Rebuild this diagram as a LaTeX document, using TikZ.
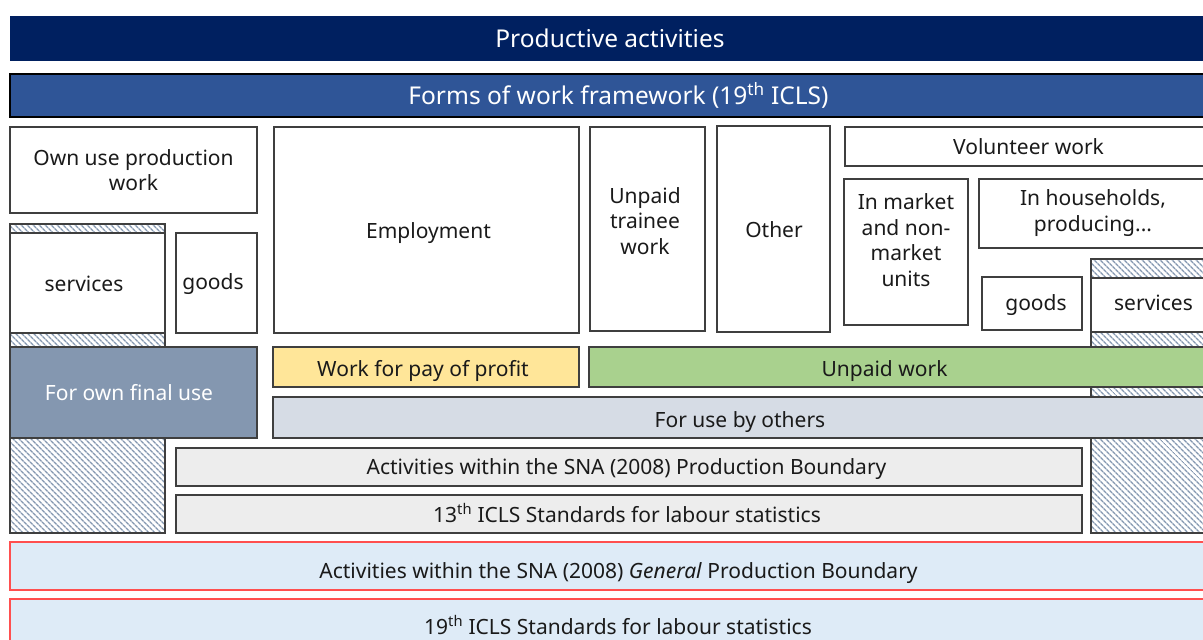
\documentclass[tikz,border=0pt]{standalone}
\usepackage{fontspec}
\setmainfont{Noto Sans}
\usetikzlibrary{patterns.meta}
\definecolor{navy}{HTML}{002060}
\definecolor{formblue}{HTML}{2F5597}
\definecolor{ownfinal}{HTML}{8497B0}
\definecolor{payyellow}{HTML}{FFE699}
\definecolor{unpaidgreen}{HTML}{A9D18E}
\definecolor{useothers}{HTML}{D6DCE5}
\definecolor{snagrey}{HTML}{EDEDED}
\definecolor{lightblue}{HTML}{DEEBF7}
\definecolor{redline}{HTML}{FF4F4F}
\definecolor{hatchc}{HTML}{8497B0}
\definecolor{boxline}{HTML}{3F3F3F}
\definecolor{txt}{HTML}{1A1A1A}
\begin{document}
\begin{tikzpicture}[x=1pt,y=-1pt,
  box/.style={draw=boxline, line width=1.4pt, fill=white, inner sep=0pt, outer sep=0pt,
    anchor=north west},
  hatchbox/.style={draw=boxline, line width=1.4pt, inner sep=0pt, outer sep=0pt, anchor=north west,
    pattern={Lines[angle=-45,distance=4pt,line width=1.4pt]}, pattern color=hatchc},
  lbl/.style={text=txt, align=center, inner sep=0pt, font=\fontsize{21}{25.5}\selectfont},
  one/.style={lbl, text height=18pt, text depth=2pt},
  redbox/.style={box, draw=redline, fill=lightblue},
  title/.style={one, text=white, font=\fontsize{24.5}{28}\selectfont, text height=20.5pt, text depth=3pt}
]
\useasboundingbox[fill=white] (0,0) rectangle (1203,640);
% top bars
\node[box, draw=none, fill=navy, minimum width=1200pt, minimum height=45pt] (prod) at (10,16) {};
\node[title] (prodT) at (610,38.5) {Productive activities};
\node[box, draw=black, fill=formblue, minimum width=1217pt, minimum height=43pt] (forms) at (10,74) {};
\node[title] (formsT) at (618.5,96) {Forms of work framework (19\textsuperscript{th} ICLS)};
% hatched columns
\node[hatchbox, minimum width=155pt, minimum height=309pt] (hatchL) at (10,224) {};
\node[hatchbox, minimum width=125pt, minimum height=274pt] (hatchR) at (1091,259) {};
% own use production
\node[box, minimum width=247pt, minimum height=86pt] (own) at (10,127) {};
\node[lbl] (ownT) at (133.5,170) {Own use production\\work};
\node[box, minimum width=155pt, minimum height=100pt] (servL) at (10,233) {};
\node[one] (servLT) at (84,283) {services};
\node[box, minimum width=81pt, minimum height=100pt] (goodsL) at (176,233) {};
\node[one] (goodsLT) at (213,281) {goods};
% employment etc.
\node[box, minimum width=305pt, minimum height=206pt] (emp) at (274,127) {};
\node[one] (empT) at (428.5,230) {Employment};
\node[box, minimum width=115pt, minimum height=204pt] (trainee) at (590,127) {};
\node[lbl] (traineeT) at (645,221) {Unpaid\\trainee\\work};
\node[box, minimum width=113pt, minimum height=206pt] (other) at (717,126) {};
\node[one] (otherT) at (774,229) {Other};
% volunteer
\node[box, minimum width=367pt, minimum height=39pt] (vol) at (845,127) {};
\node[one] (volT) at (1028.5,146.5) {Volunteer work};
\node[box, minimum width=124pt, minimum height=146pt] (market) at (844,179) {};
\node[lbl] (marketT) at (906,240) {In market\\and non-\\market\\units};
\node[box, minimum width=228pt, minimum height=69pt] (hh) at (979,179) {};
\node[lbl] (hhT) at (1093,213) {In households,\\producing...};
\node[box, minimum width=100pt, minimum height=53pt] (goodsR) at (982,277) {};
\node[one] (goodsRT) at (1036,302) {goods};
\node[box, minimum width=125pt, minimum height=54pt] (servR) at (1091,278) {};
\node[one] (servRT) at (1153.5,302) {services};
% work categories
\node[box, fill=ownfinal, minimum width=247pt, minimum height=91pt] (ownfinal) at (10,347) {};
\node[one, text=white] (ownfinalT) at (129,392.5) {For own final use};
\node[box, fill=payyellow, minimum width=306pt, minimum height=40pt] (pay) at (273,347) {};
\node[one] (payT) at (423,368.5) {Work for pay of profit};
\node[box, fill=unpaidgreen, minimum width=626pt, minimum height=40pt] (unpaid) at (589,347) {};
\node[one] (unpaidT) at (884.5,368.5) {Unpaid work};
\node[box, fill=useothers, minimum width=934pt, minimum height=41pt] (others) at (273,397) {};
\node[one] (othersT) at (740,419.5) {For use by others};
% boundaries
\node[box, fill=snagrey, minimum width=906pt, minimum height=38pt] (sna) at (176,448) {};
\node[one] (snaT) at (626.5,466.5) {Activities within the SNA (2008) Production Boundary};
\node[box, fill=snagrey, minimum width=906pt, minimum height=38pt] (icls13) at (176,495) {};
\node[one] (icls13T) at (627,514) {13\textsuperscript{th} ICLS Standards for labour statistics};
\node[redbox, minimum width=1217pt, minimum height=48pt] (general) at (10,542) {};
\node[one] (generalT) at (618.5,570) {Activities within the SNA (2008) \textit{General} Production Boundary};
\node[redbox, minimum width=1217pt, minimum height=52pt] (icls19) at (10,599) {};
\node[one] (icls19T) at (618,626.5) {19\textsuperscript{th} ICLS Standards for labour statistics};
\end{tikzpicture}
\end{document}
